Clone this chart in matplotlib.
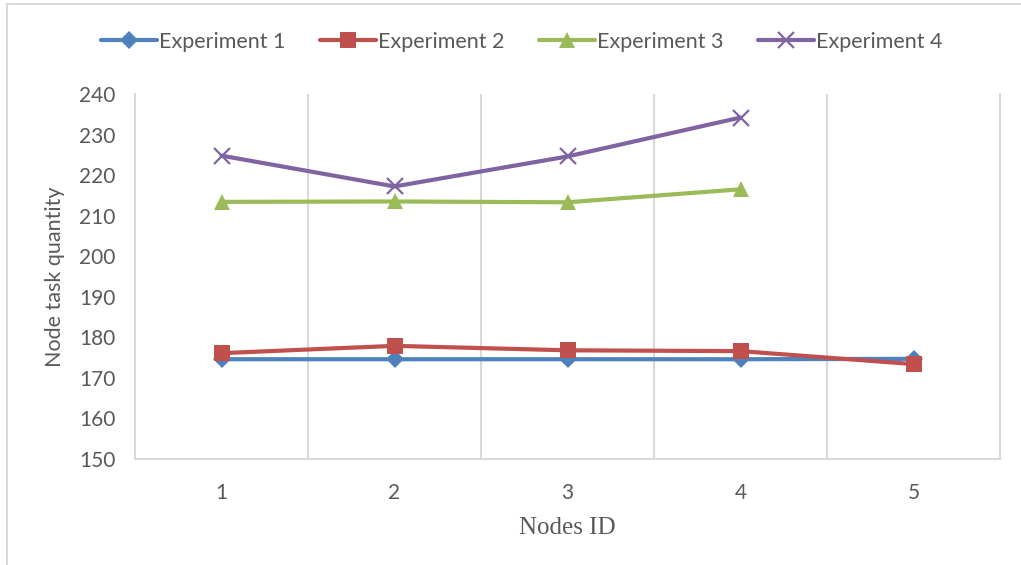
import matplotlib
matplotlib.use("Agg")
import matplotlib.pyplot as plt  # noqa: E402
from matplotlib.lines import Line2D  # noqa: E402

nodes = [1, 2, 3, 4, 5]
exp1 = [174.6, 174.6, 174.6, 174.6, 174.7]
exp2 = [176.1, 177.9, 176.8, 176.6, 173.4]
exp3 = [213.4, 213.5, 213.3, 216.5]
exp4 = [224.8, 217.2, 224.6, 234.2]

series = [
    ("Experiment 1", nodes, exp1, "#4F81BD", "D", 9),
    ("Experiment 2", nodes, exp2, "#C0504D", "s", 12),
    ("Experiment 3", nodes[:4], exp3, "#9BBB59", "^", 12),
    ("Experiment 4", nodes[:4], exp4, "#8064A2", "x", 11),
]

plt.rcParams["font.family"] = ["Lato", "DejaVu Sans"]
TXT = "#595959"
GRID = "#D9D9D9"

fig = plt.figure(figsize=(10.21, 5.65), dpi=100)
ax = fig.add_axes([135 / 1021, 1 - 459 / 565, 865 / 1021, 365 / 565])

for name, xs, ys, col, mk, ms in series:
    ax.plot(xs, ys, color=col, lw=3, marker=mk, ms=ms, mew=1.6 if mk == "x" else 0,
            mec=col, mfc=col, label=name, solid_capstyle="round", zorder=3)

ax.set_xlim(0.5, 5.5)
ax.set_ylim(150, 240)
ax.set_yticks(range(150, 241, 10))
ax.set_xticks(nodes)
for b in (1.5, 2.5, 3.5, 4.5):
    ax.axvline(b, color=GRID, lw=1.5, zorder=1)
for s in ("left", "right", "bottom"):
    ax.spines[s].set_color(GRID)
    ax.spines[s].set_linewidth(1.5)
ax.spines["top"].set_visible(False)
ax.tick_params(length=0, labelsize=15, colors=TXT, pad=14)
ax.tick_params(axis="x", pad=17)

ax.set_ylabel("Node task quantity", fontsize=15.5, color=TXT, labelpad=10)
ax.set_xlabel("Nodes ID", fontsize=18, color=TXT, family="Liberation Serif", labelpad=10)

fig.legend(loc="center", bbox_to_anchor=(522 / 1021, 1 - 42 / 565), ncol=4, frameon=False,
           fontsize=15.5, labelcolor=TXT, handlelength=2.6, handletextpad=0.1, columnspacing=1.6)

# chart-area border
fig.add_artist(Line2D([7 / 1021, 7 / 1021], [0, 1 - 4 / 565], color=GRID, lw=1.5))
fig.add_artist(Line2D([7 / 1021, 1], [1 - 4 / 565, 1 - 4 / 565], color=GRID, lw=1.5))

fig.savefig("out.png", dpi=100)
